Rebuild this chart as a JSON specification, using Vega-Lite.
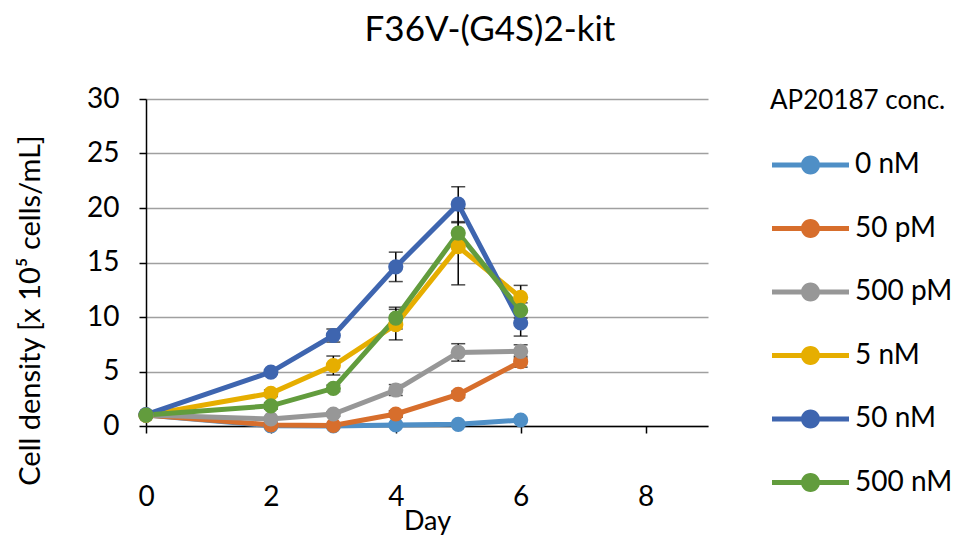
{
  "$schema": "https://vega.github.io/schema/vega-lite/v6.json",
  "width": 562,
  "height": 327,
  "autosize": "none",
  "padding": {"left": 146, "top": 99, "right": 260, "bottom": 114},
  "background": "white",
  "config": {
    "font": "Lato",
    "view": {"stroke": null},
    "axis": {"labelFont": "Lato", "titleFont": "Lato", "labelColor": "#000", "titleColor": "#000", "labelFontWeight": "normal", "titleFontWeight": "normal"},
    "legend": {"labelFont": "Lato", "titleFont": "Lato"}
  },
  "title": {
    "text": "F36V-(G4S)2-kit",
    "font": "Lato",
    "fontSize": 35,
    "fontWeight": "normal",
    "color": "#000",
    "anchor": "middle",
    "frame": "group",
    "dx": 63,
    "offset": 37
  },
  "data": {
    "values": [
      {"series": "0 nM", "day": 0, "value": 1.0, "lo": 1.0, "hi": 1.0},
      {"series": "0 nM", "day": 2, "value": 0.02, "lo": 0.02, "hi": 0.02},
      {"series": "0 nM", "day": 3, "value": 0.0, "lo": 0.0, "hi": 0.0},
      {"series": "0 nM", "day": 4, "value": 0.1, "lo": 0.1, "hi": 0.1},
      {"series": "0 nM", "day": 5, "value": 0.15, "lo": 0.15, "hi": 0.15},
      {"series": "0 nM", "day": 6, "value": 0.55, "lo": 0.55, "hi": 0.55},
      {"series": "50 pM", "day": 0, "value": 1.0, "lo": 1.0, "hi": 1.0},
      {"series": "50 pM", "day": 2, "value": 0.1, "lo": 0.05, "hi": 0.15},
      {"series": "50 pM", "day": 3, "value": 0.05, "lo": 0.0, "hi": 0.1},
      {"series": "50 pM", "day": 4, "value": 1.1, "lo": 0.8, "hi": 1.4},
      {"series": "50 pM", "day": 5, "value": 2.9, "lo": 2.6, "hi": 3.2},
      {"series": "50 pM", "day": 6, "value": 5.9, "lo": 5.4, "hi": 6.4},
      {"series": "500 pM", "day": 0, "value": 1.0, "lo": 1.0, "hi": 1.0},
      {"series": "500 pM", "day": 2, "value": 0.65, "lo": 0.55, "hi": 0.75},
      {"series": "500 pM", "day": 3, "value": 1.1, "lo": 0.9, "hi": 1.3},
      {"series": "500 pM", "day": 4, "value": 3.3, "lo": 2.8, "hi": 3.8},
      {"series": "500 pM", "day": 5, "value": 6.75, "lo": 5.95, "hi": 7.55},
      {"series": "500 pM", "day": 6, "value": 6.85, "lo": 6.25, "hi": 7.45},
      {"series": "5 nM", "day": 0, "value": 1.0, "lo": 1.0, "hi": 1.0},
      {"series": "5 nM", "day": 2, "value": 3.0, "lo": 2.7, "hi": 3.3},
      {"series": "5 nM", "day": 3, "value": 5.55, "lo": 4.68, "hi": 6.42},
      {"series": "5 nM", "day": 4, "value": 9.3, "lo": 7.9, "hi": 10.7},
      {"series": "5 nM", "day": 5, "value": 16.45, "lo": 12.95, "hi": 19.95},
      {"series": "5 nM", "day": 6, "value": 11.8, "lo": 10.7, "hi": 12.9},
      {"series": "50 nM", "day": 0, "value": 1.05, "lo": 1.05, "hi": 1.05},
      {"series": "50 nM", "day": 2, "value": 4.95, "lo": 4.75, "hi": 5.15},
      {"series": "50 nM", "day": 3, "value": 8.3, "lo": 7.7, "hi": 8.9},
      {"series": "50 nM", "day": 4, "value": 14.6, "lo": 13.25, "hi": 15.95},
      {"series": "50 nM", "day": 5, "value": 20.35, "lo": 18.75, "hi": 21.95},
      {"series": "50 nM", "day": 6, "value": 9.45, "lo": 8.25, "hi": 10.65},
      {"series": "500 nM", "day": 0, "value": 1.0, "lo": 1.0, "hi": 1.0},
      {"series": "500 nM", "day": 2, "value": 1.85, "lo": 1.55, "hi": 2.15},
      {"series": "500 nM", "day": 3, "value": 3.45, "lo": 3.15, "hi": 3.75},
      {"series": "500 nM", "day": 4, "value": 9.9, "lo": 8.9, "hi": 10.9},
      {"series": "500 nM", "day": 5, "value": 17.7, "lo": 16.75, "hi": 18.65},
      {"series": "500 nM", "day": 6, "value": 10.6, "lo": 9.9, "hi": 11.3}
    ]
  },
  "encoding": {
    "x": {
      "field": "day",
      "type": "quantitative",
      "title": "Day",
      "scale": {"domain": [0, 9], "nice": false, "zero": false},
      "axis": {
        "values": [0, 2, 4, 6, 8],
        "grid": false,
        "labelFlush": false,
        "labelOverlap": false,
        "domainColor": "#000",
        "domainWidth": 1.5,
        "tickColor": "#000",
        "tickWidth": 1.5,
        "tickSize": 7,
        "labelFontSize": 28,
        "labelPadding": 50,
        "titleFontSize": 27,
        "titleBaseline": "middle",
        "titleY": 95
      }
    },
    "color": {
      "field": "series",
      "type": "nominal",
      "scale": {
        "domain": ["0 nM", "50 pM", "500 pM", "5 nM", "50 nM", "500 nM"],
        "range": ["#4F8FC6", "#D76E2C", "#979797", "#E6AE00", "#3E65AF", "#629C3D"]
      },
      "legend": {
        "title": "AP20187 conc.",
        "orient": "none",
        "legendX": 624,
        "legendY": -11,
        "titleFontSize": 26,
        "titleFontWeight": "normal",
        "titleColor": "#000",
        "titlePadding": 37,
        "labelFontSize": 28,
        "labelColor": "#000",
        "labelOffset": 57,
        "rowPadding": 35.5,
        "symbolType": "M-1.2,-0.25H6.5V0.25H-1.2Z M3.6,0A0.95,0.95,0,1,1,1.7,0A0.95,0.95,0,1,1,3.6,0Z",
        "symbolSize": 400,
        "symbolStrokeWidth": 0,
        "symbolOpacity": 1,
        "encode": {
          "symbols": {"update": {"fill": {"scale": "color", "field": "value"}, "stroke": {"value": "transparent"}, "opacity": {"value": 1}}}
        }
      }
    }
  },
  "layer": [
    {
      "mark": {"type": "rule", "color": "#000", "strokeWidth": 1.5},
      "encoding": {
        "y": {"field": "lo", "type": "quantitative"},
        "y2": {"field": "hi"},
        "color": {"value": "#000"}
      }
    },
    {
      "mark": {"type": "tick", "color": "#000", "thickness": 1.5, "size": 14, "orient": "horizontal"},
      "encoding": {
        "y": {"field": "lo", "type": "quantitative"},
        "color": {"value": "#000"}
      }
    },
    {
      "mark": {"type": "tick", "color": "#000", "thickness": 1.5, "size": 14, "orient": "horizontal"},
      "encoding": {
        "y": {"field": "hi", "type": "quantitative"},
        "color": {"value": "#000"}
      }
    },
    {
      "mark": {"type": "line", "strokeWidth": 5},
      "encoding": {
        "y": {
          "field": "value",
          "type": "quantitative",
          "title": "Cell density [x 10⁵ cells/mL]",
          "scale": {"domain": [0, 30], "nice": false},
          "axis": {
            "values": [0, 5, 10, 15, 20, 25, 30],
            "grid": true,
            "gridColor": "#A0A0A0",
            "gridWidth": 1.5,
            "domainColor": "#000",
            "domainWidth": 1.5,
            "tickColor": "#000",
            "tickWidth": 1.5,
            "tickSize": 7,
            "labelFontSize": 28,
            "labelPadding": 20,
            "titleFontSize": 29,
            "titleBaseline": "middle",
            "titleAngle": -90,
            "titleX": -116,
            "titleY": 211
          }
        },
        "detail": {"field": "series"}
      }
    },
    {
      "mark": {"type": "point", "filled": true, "shape": "circle", "size": 230, "opacity": 1},
      "encoding": {
        "y": {"field": "value", "type": "quantitative"}
      }
    }
  ]
}
